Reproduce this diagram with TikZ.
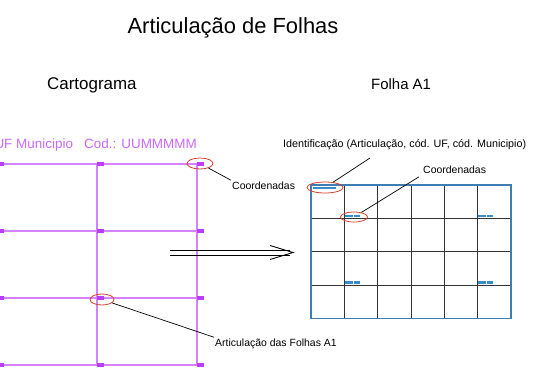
\documentclass[tikz,border=0pt]{standalone}
\usepackage{fontspec}
\setmainfont{Liberation Sans}
\usetikzlibrary{shapes.geometric, positioning}

\definecolor{carto}{RGB}{212,130,255}
\definecolor{cartodark}{RGB}{188,60,255}
\definecolor{cartotext}{RGB}{200,105,255}
\definecolor{folhablue}{RGB}{60,125,180}
\definecolor{markblue}{RGB}{55,140,205}
\definecolor{ringred}{RGB}{215,65,45}

\begin{document}
\begin{tikzpicture}[x=1bp,y=-1bp,
 carto line/.style={carto,line width=1.3bp},
 carto tick/.style={fill=cartodark,minimum width=7bp,minimum height=3.5bp,inner sep=0pt,anchor=west},
 grid line/.style={black!80,line width=0.9bp},
 ring/.style={ellipse,draw=ringred,line width=0.8bp,inner sep=0pt},
 small label/.style={font=\fontsize{10.5}{12}\selectfont,inner sep=1bp,anchor=base west},
 head label/.style={inner sep=0pt,anchor=base west},
 leader/.style={black,line width=0.7bp}]
\clip (0,0) rectangle (533,371);

\node[font=\fontsize{22}{26}\selectfont,anchor=base] (title) at (233,33) {Articulação de Folhas};
\node[head label,font=\fontsize{17}{20}\selectfont] (carto) at (47,89) {Cartograma};
\node[head label,font=\fontsize{15}{18}\selectfont] (folha) at (371,89) {Folha A1};
\node[font=\fontsize{13.5}{16}\selectfont,text=cartotext,anchor=base east,inner sep=0pt] (code) at (197,148) {UF Municipio~~~Cod.: UUMMMMM};

% cartograma
\foreach \y in {164,231,298,365}
  \draw[carto line] (-3,\y) -- (197,\y);
\foreach \x in {-3,97,197}{
  \draw[carto line] (\x,164) -- (\x,365);
  \foreach \y in {164,231,298,365}
    \node[carto tick] at (\x,\y) {};}

\node[ring,minimum width=26bp,minimum height=11bp] (ringC) at (200,163.5) {};
\node[small label] (coordC) at (231,189) {Coordenadas};
\draw[leader] (ringC) -- (coordC.north west);

\node[ring,minimum width=24bp,minimum height=11bp] (ringA) at (102,299.5) {};
\node[small label] (artic) at (214,346) {Articulação das Folhas A1};
\draw[leader] (ringA) -- (artic.north west);

% seta
\coordinate (arrowFrom) at (170,252.5);
\coordinate (arrowTo) at (293,252.5);
\draw[line width=0.9bp] ([yshift=2.5bp]arrowFrom) -- ([yshift=2.5bp,xshift=-3bp]arrowTo)
  ([yshift=-2.5bp]arrowFrom) -- ([yshift=-2.5bp,xshift=-3bp]arrowTo);
\draw[line width=0.9bp] (arrowTo) ++(-23,-7) -- (arrowTo) -- ++(-23,7);

% folha A1
\foreach \i in {1,...,5}
  \draw[grid line] (311+\i*33.33,185) -- ++(0,133.3);
\foreach \j in {1,2,3}
  \draw[grid line] (311,185+\j*33.33) -- ++(200,0);
\draw[folhablue,line width=1.2bp] (311,185) rectangle (511,318.3);

\fill[markblue] (313,186.5) rectangle (336,188.5);
\foreach \x in {345,478}
  \foreach \y in {218.3,285}{
    \fill[markblue] (\x,\y-3.8) rectangle (\x+7.5,\y-1);
    \fill[markblue] (\x+9,\y-3.8) rectangle (\x+15,\y-1);}

\node[ring,minimum width=36bp,minimum height=11bp] (ringId) at (325,187.5) {};
\node[small label,font=\fontsize{10.8}{12}\selectfont] (ident) at (282,147.5) {Identificação (Articulação, cód. UF, cód. Municipio)};
\coordinate (identEnd) at (370,158);
\draw[leader] (ringId) -- (identEnd);

\node[ring,minimum width=27bp,minimum height=10bp] (ringF) at (354,217) {};
\node[small label] (coordF) at (422,173.5) {Coordenadas};
\draw[leader] ([xshift=-3bp,yshift=-2bp]coordF.south west) -- (ringF);

\end{tikzpicture}
\end{document}
